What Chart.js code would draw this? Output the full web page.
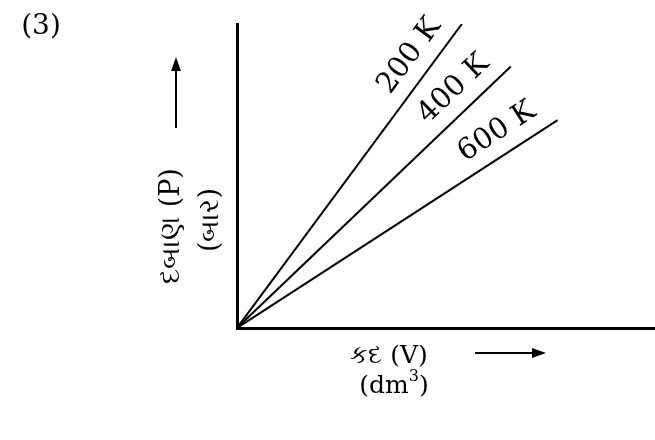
<!DOCTYPE html>
<html>
<head>
<meta charset="utf-8">
<script src="https://cdn.jsdelivr.net/npm/chart.js@4.4.1/dist/chart.umd.min.js"></script>
<style>
html, body { margin: 0; padding: 0; background: #fff; }
</style>
</head>
<body>
<canvas id="mycanvas" width="655" height="440"></canvas>
<script>
// isotherms (arbitrary units, both axes 0..10)
var temps = ['200 K', '400 K', '600 K'];
var volume = [[0, 5.38], [0, 6.55], [0, 7.67]];
var pressure = [[0, 10], [0, 8.6], [0, 6.84]];
var xTitle = ['કદ (V)', '(dm', '3', ')'];
var yTitle = ['દબાણ (P)', '(બાર)'];
var panelLabel = '(3)';

var serif = '"DejaVu Serif", "Noto Sans", serif';

var datasets = [];
for (var i in temps) {
	var pts = [];
	for (var j in volume[i]) {
		pts.push({x: volume[i][j], y: pressure[i][j]});
	}
	datasets.push({
		label: temps[i],
		data: pts,
		showLine: true,
		borderColor: '#000',
		borderWidth: 2,
		pointRadius: 0,
		fill: false
	});
}

function arrow(ctx, x1, y1, x2, y2) {
	var a = Math.atan2(y2 - y1, x2 - x1);
	ctx.beginPath();
	ctx.moveTo(x1, y1);
	ctx.lineTo(x2 - Math.cos(a) * 8, y2 - Math.sin(a) * 8);
	ctx.lineWidth = 2;
	ctx.stroke();
	ctx.beginPath();
	ctx.moveTo(x2, y2);
	ctx.lineTo(x2 - Math.cos(a) * 14 - Math.sin(a) * 5, y2 - Math.sin(a) * 14 + Math.cos(a) * 5);
	ctx.lineTo(x2 - Math.cos(a) * 14 + Math.sin(a) * 5, y2 - Math.sin(a) * 14 - Math.cos(a) * 5);
	ctx.closePath();
	ctx.fill();
}

var labelsPlugin = {
	id: 'labels',
	afterDraw: function(chart) {
		var ctx = chart.ctx;
		ctx.save();
		ctx.fillStyle = '#000';
		ctx.strokeStyle = '#000';
		ctx.textAlign = 'center';
		ctx.textBaseline = 'middle';

		// temperature labels along each line
		ctx.font = '29px ' + serif;
		for (var i in temps) {
			var meta = chart.getDatasetMeta(i);
			var p0 = meta.data[0], p1 = meta.data[1];
			var dx = p1.x - p0.x, dy = p1.y - p0.y;
			var len = Math.sqrt(dx * dx + dy * dy);
			var ux = dx / len, uy = dy / len;
			var cx = p0.x + ux * len * 0.85 + uy * 23;
			var cy = p0.y + uy * len * 0.85 - ux * 23;
			ctx.save();
			ctx.translate(cx, cy);
			ctx.rotate(Math.atan2(dy, dx));
			ctx.fillText(temps[i], 0, 0);
			ctx.restore();
		}

		// panel number
		ctx.font = '28px ' + serif;
		ctx.fillText(panelLabel, 41, 27);

		// y title, rotated
		ctx.save();
		ctx.translate(172, 226);
		ctx.rotate(-Math.PI / 2);
		ctx.font = '27px ' + serif;
		ctx.fillText(yTitle[0], 0, 0);
		ctx.fillText(yTitle[1], 6, 39);
		ctx.restore();
		arrow(ctx, 176, 128, 176, 57);

		// x title
		ctx.font = '25px ' + serif;
		ctx.fillText(xTitle[0], 389, 356);
		ctx.textAlign = 'left';
		var w1 = ctx.measureText(xTitle[1]).width;
		ctx.font = '16px ' + serif;
		var w2 = ctx.measureText(xTitle[2]).width;
		ctx.font = '25px ' + serif;
		var w3 = ctx.measureText(xTitle[3]).width;
		var x0 = 394 - (w1 + w2 + w3) / 2;
		ctx.fillText(xTitle[1], x0, 386);
		ctx.font = '16px ' + serif;
		ctx.fillText(xTitle[2], x0 + w1, 377);
		ctx.font = '25px ' + serif;
		ctx.fillText(xTitle[3], x0 + w1 + w2, 386);
		arrow(ctx, 475, 353, 546, 353);
		ctx.restore();
	}
};

var ctx = document.getElementById('mycanvas');
var chart = new Chart(ctx, {
	type: 'scatter',
	data: {datasets: datasets},
	options: {
		responsive: false,
		animation: false,
		layout: {padding: {left: 229, top: 24, right: 0, bottom: 104}},
		plugins: {legend: {display: false}, tooltip: {enabled: false}},
		scales: {
			x: {
				type: 'linear', min: 0, max: 10,
				grid: {display: false},
				ticks: {display: false},
				border: {display: true, color: '#000', width: 3}
			},
			y: {
				type: 'linear', min: 0, max: 10,
				grid: {display: false},
				ticks: {display: false},
				border: {display: true, color: '#000', width: 3}
			}
		}
	},
	plugins: [labelsPlugin]
});
</script>
</body>
</html>
